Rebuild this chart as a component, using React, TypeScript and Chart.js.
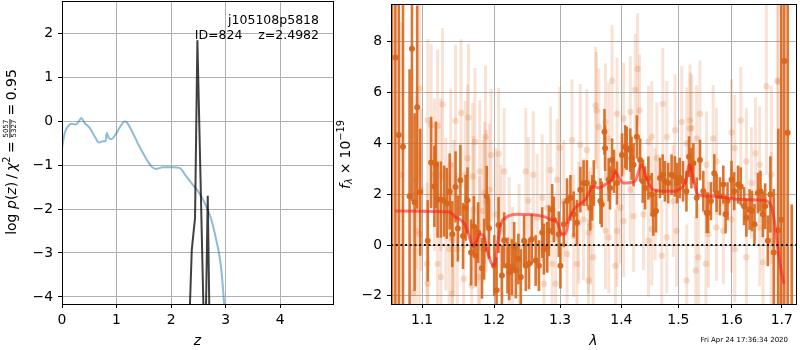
import React, { useEffect, useRef } from 'react';
import { Chart, registerables } from 'chart.js';

Chart.register(...registerables);

const FONT = '"DejaVu Sans", sans-serif';

// ---------------- Left panel data ----------------
const zTicks = [0, 1, 2, 3, 4];
const logpTicks = [-4, -3, -2, -1, 0, 1, 2];
const zRange = [0, 4.97];
const logpRange = [-4.16, 2.73];

const chiZ = [0, 0.05, 0.11, 0.17, 0.25, 0.31, 0.35, 0.42, 0.51, 0.6, 0.68, 0.75, 0.8, 0.82, 0.86, 0.9, 1.0, 1.07, 1.15, 1.2, 1.3, 1.42, 1.55, 1.64, 1.72, 1.85, 2.03, 2.16, 2.28, 2.4, 2.52, 2.65, 2.74, 2.83, 2.9, 2.94, 2.97, 3.0];
const chiLogP = [-0.62, -0.27, -0.12, -0.06, -0.08, -0.01, 0.07, -0.05, -0.16, -0.35, -0.49, -0.46, -0.46, -0.27, -0.39, -0.41, -0.27, -0.12, -0.01, -0.05, -0.27, -0.58, -0.87, -1.03, -1.09, -1.05, -1.05, -1.07, -1.26, -1.45, -1.64, -1.95, -2.25, -2.71, -3.16, -3.62, -4.11, -4.6];

const pzZ = [2.343, 2.38, 2.44, 2.483, 2.595, 2.64, 2.673, 2.702];
const pzLogP = [-4.3, -2.93, -2.2, 1.84, -4.3, -4.3, -1.7, -4.3];

// ---------------- Right panel data ----------------
const lamTicks = [1.1, 1.2, 1.3, 1.4, 1.5, 1.6, 1.7];
const fluxTicks = [-2, 0, 2, 4, 6, 8];
const lamRange = [1.0593, 1.7295];
const fluxRange = [-2.32, 9.49];

const darkLam = [
  1.0607, 1.0649, 1.0693, 1.0748, 1.0834, 1.0865, 1.09, 1.0934, 1.0974, 1.1075, 1.112, 1.1164, 1.1185, 1.1208, 1.1252, 1.1297, 1.1332, 1.1373, 1.1409, 1.1454, 1.1486, 1.1521, 1.1558, 1.1594, 1.1621, 1.1671, 1.1711, 1.1738, 1.1771, 1.1826, 1.1857, 1.1894, 1.1926,
  1.2003, 1.2037, 1.2066, 1.2115, 1.2148, 1.2197, 1.2222, 1.2262, 1.2296, 1.2321, 1.2359, 1.2395, 1.2444, 1.247, 1.2519, 1.256, 1.262, 1.267, 1.272, 1.2747, 1.2798, 1.2824, 1.2875, 1.2901, 1.2979, 1.3004, 1.3057, 1.3109, 1.3163, 1.3214, 1.3267, 1.3322, 1.3374, 1.3427, 1.3482,
  1.3514, 1.354, 1.365, 1.3672, 1.3716, 1.3727, 1.3786, 1.3809, 1.3843, 1.3875, 1.3926, 1.401, 1.4066, 1.409, 1.4151, 1.4173, 1.4208, 1.4265, 1.4321, 1.4367, 1.4407, 1.4465, 1.4524, 1.4552, 1.46, 1.4669, 1.4718, 1.4757, 1.4816, 1.4877, 1.4936, 1.4977, 1.5025, 1.5085, 1.5147, 1.5194, 1.5238,
  1.5275, 1.5336, 1.5397, 1.546, 1.5522, 1.5548, 1.5603, 1.5666, 1.571, 1.5773, 1.5838, 1.5882, 1.592, 1.5996, 1.6048, 1.6125, 1.6175, 1.6241, 1.6286, 1.635, 1.6398, 1.6448, 1.6516, 1.6567, 1.6615, 1.6662, 1.6715, 1.6767, 1.6836, 1.6929, 1.699, 1.7051, 1.7121, 1.7205,
];
const darkFlux = [
  11.0, 7.38, 4.33, 3.87, 1.92, 7.73, 1.69, 5.43, 2.08, 0.17, 3.25, 2.31, 3.16, 1.79, 1.79, 1.73, 1.64, 2.11, 0.43, 2.29, 0.65, 2.55, 0.36, 1.47, 1.76, -0.29, 0.73, -0.42, 0.49, -0.91, -0.16, 1.92, 0.66,
  -0.81, -1.78, 0.79, -1.2, 0.19, -0.81, -1.07, -0.87, -0.09, -1.0, -0.55, -1.26, 0.17, -0.81, -0.74, 0.23, -0.61, -0.81, 0.49, -0.16, -0.09, 0.56, 1.4, 1.01, 0.43, -0.81, 0.82, 1.73, 1.86, 1.21, 0.88, 2.18, 2.44, 2.44, 1.47,
  1.86, 2.44, 1.73, 1.6, 4.46, 3.81, 2.57, 2.25, 3.35, 2.9, 2.44, 3.55, 3.87, 3.81, 3.74, 3.42, 3.16, 4.26, 3.35, 2.51, 2.25, 2.64, 1.99, 1.21, 1.34, 2.64, 2.77, 2.51, 2.44, 2.77, 2.7, 2.44, 2.64, 2.51, 2.12, 3.48, 3.03,
  3.22, 1.86, 3.35, 2.12, 1.27, 1.27, 1.73, 2.83, 2.05, 1.92, 2.38, 1.21, 1.73, 2.57, 2.12, 2.38, 2.31, 1.53, 1.08, 1.4, 1.34, 0.82, 2.05, 2.12, 1.21, 1.53, 0.17, 1.99, -0.29, 0.58, 1.0, 7.25, 4.42, -3.0,
];
const darkErr = [
  14, 10, 9, 7, 5, 6, 3.5, 4, 2.5, 1.6, 1.8, 1.6, 1.7, 1.5, 1.5, 1.4, 1.4, 1.5, 1.3, 1.4, 1.3, 1.4, 1.3, 1.3, 1.3, 1.3, 1.2, 1.2, 1.2, 1.2, 1.2, 1.2, 1.2,
  1.2, 1.3, 1.1, 1.2, 1.1, 1.1, 1.1, 1.1, 1.0, 1.1, 1.0, 1.1, 1.0, 1.0, 1.0, 1.0, 1.0, 1.0, 1.0, 1.0, 1.0, 1.0, 1.0, 0.9, 0.9, 0.9, 0.9, 0.9, 0.9, 0.9, 0.9, 0.9, 0.9, 0.9, 0.9,
  0.9, 0.9, 0.9, 0.9, 0.9, 0.9, 0.85, 0.85, 0.85, 0.85, 0.85, 0.85, 0.85, 0.85, 0.85, 0.85, 0.85, 0.85, 0.85, 0.85, 0.85, 0.85, 0.85, 0.85, 0.85, 0.8, 0.8, 0.8, 0.8, 0.8, 0.8, 0.8, 0.8, 0.8, 0.8, 0.8, 0.8,
  0.8, 0.8, 0.8, 0.8, 0.8, 0.8, 0.75, 0.75, 0.75, 0.75, 0.75, 0.75, 0.75, 0.75, 0.75, 0.75, 0.75, 0.75, 0.75, 0.8, 0.8, 0.8, 0.8, 0.8, 0.9, 0.9, 1.0, 1.5, 2.5, 4, 10, 12, 12, 4.6,
];

const lightLam = [
  1.0726, 1.0878, 1.0921, 1.0921, 1.0966, 1.0966, 1.0987, 1.1066, 1.1075, 1.1075, 1.112, 1.1164, 1.1208, 1.1208, 1.1252, 1.1252, 1.1275, 1.132, 1.1365, 1.1387, 1.1409, 1.1409, 1.1432, 1.1454, 1.1477, 1.153, 1.1567, 1.1589, 1.1621, 1.1635, 1.168, 1.1694, 1.1703, 1.1726, 1.1771, 1.1794, 1.1794, 1.184, 1.1863, 1.1877, 1.1886,
  1.1932, 1.1957, 1.2029, 1.2066, 1.2101, 1.2148, 1.2222, 1.2271, 1.237, 1.247, 1.2509, 1.2584, 1.2644, 1.272, 1.2747, 1.2798, 1.2849, 1.2875, 1.2927, 1.2953, 1.2994, 1.3057, 1.3109, 1.3188, 1.3214, 1.3267, 1.3294, 1.332, 1.3373, 1.3427, 1.3454, 1.3454,
  1.3487, 1.353, 1.3568, 1.3585, 1.3623, 1.3733, 1.3733, 1.3787, 1.3787, 1.3843, 1.3899, 1.3927, 1.3927, 1.3982, 1.4039, 1.4039, 1.4152, 1.4152, 1.4208, 1.4237, 1.4277, 1.4311, 1.438, 1.4467, 1.4467, 1.4525, 1.4525, 1.4584, 1.4614, 1.4701, 1.472, 1.4791, 1.4791, 1.4909, 1.494, 1.4969, 1.5061, 1.5152, 1.5152, 1.5213, 1.5213,
  1.5245, 1.5318, 1.5336, 1.5367, 1.5396, 1.5508, 1.5521, 1.5557, 1.5645, 1.5708, 1.5708, 1.5837, 1.5996, 1.5996, 1.606, 1.606, 1.6177, 1.6287, 1.6287, 1.6386, 1.6466, 1.6551, 1.6551, 1.6619, 1.6685, 1.6786, 1.6786, 1.6908, 1.6934,
];
const lightFlux = [
  2.77, -1.89, 2.57, 0.56, 6.17, 0.43, 2.18, -0.74, 4.91, -1.52, 4.72, 2.77, 4.69, -0.74, 2.77, -1.26, 5.54, 1.21, -0.16, 3.16, 0.23, -1.91, 1.14, 4.89, -0.16, 5.2, -1.33, 2.77, 3.42, 5.02, -1.59, 2.7, 1.4, 4.07, -1.26, 2.9, -0.09, 1.34, 2.05, 4.26, 1.73,
  2.18, 3.55, 1.21, 3.59, 0.56, 2.9, 0.17, -1.0, -0.09, 2.9, 1.75, 2.77, 1.08, 1.86, -1.52, 1.47, 2.96, -0.74, -1.52, 2.57, 3.83, 1.73, -0.35, 4.13, 0.36, -0.74, 0.88, 3.94, 1.01, 3.74, -1.39, 0.49,
  0.75, -0.48, 5.5, 5.3, 4.65, 4.85, 0.56, 4.2, 0.3, 6.47, -0.81, 5.17, 0.56, 1.47, 4.98, 0.95, 5.24, 2.18, 1.14, 6.12, 6.93, 5.3, 1.21, 4.07, 0.17, 4.26, 0.62, 1.6, 3.42, -0.42, 5.56, 4.26, 0.3, 1.73, 4.52, 0.56, 4.85, 4.0, -1.39, 4.91, 4.59,
  4.61, -1.0, 4.2, -0.48, 5.17, -0.74, 3.16, 0.43, 4.2, 3.29, 0.69, 0.56, 4.43, 1.01, 3.81, -0.16, 4.91, 3.29, -0.48, 2.44, 3.61, 3.16, 0.69, -0.68, 6.25, 2.77, 0.17, 6.47, 6.43,
];
const lightErr = [
  6, 4, 3.5, 3.5, 3.5, 3.5, 3.2, 3.2, 3.2, 3.2, 3.2, 3.0, 3.0, 3.0, 3.0, 3.0, 3.0, 3.0, 3.0, 3.0, 3.0, 3.0, 3.0, 3.0, 3.0, 2.9, 2.9, 2.9, 2.9, 2.9, 2.9, 2.9, 2.9, 2.9, 2.8, 2.8, 2.8, 2.8, 2.8, 2.8, 2.8,
  2.6, 2.6, 2.6, 2.6, 2.6, 2.5, 2.5, 2.5, 2.5, 2.5, 2.5, 2.5, 2.5, 2.5, 2.5, 2.5, 2.5, 2.5, 2.5, 2.4, 2.4, 2.4, 2.4, 2.4, 2.4, 2.4, 2.4, 2.4, 2.4, 2.4, 2.4, 2.4,
  2.3, 2.3, 2.3, 2.3, 2.3, 2.3, 2.3, 2.2, 2.2, 2.2, 2.2, 2.2, 2.2, 2.2, 2.2, 2.2, 2.2, 2.2, 2.2, 2.2, 2.2, 2.2, 2.2, 2.2, 2.2, 2.2, 2.2, 2.2, 2.2, 2.2, 2.2, 2.2, 2.2, 2.2, 2.2, 2.2, 2.2, 2.2, 2.2, 2.2, 2.2,
  2.1, 2.1, 2.1, 2.1, 2.1, 2.1, 2.1, 2.1, 2.1, 2.1, 2.1, 2.1, 2.1, 2.1, 2.1, 2.1, 2.1, 2.1, 2.1, 2.2, 2.2, 2.3, 2.3, 2.4, 3.5, 3.5, 3.5, 9, 9,
];

const modelLam = [1.0645, 1.1365, 1.1454, 1.1567, 1.1635, 1.17, 1.174, 1.18, 1.185, 1.19, 1.196, 1.2003, 1.2052, 1.2101, 1.2174, 1.2344, 1.272, 1.2849, 1.2953, 1.3031, 1.3084, 1.3147, 1.3242, 1.3402, 1.3535, 1.3618, 1.3728, 1.3837, 1.3904, 1.3961, 1.4034, 1.4231, 1.4345, 1.4431, 1.4547, 1.4753, 1.4934, 1.5053, 1.5126, 1.5206, 1.5267, 1.5359, 1.5605, 1.6241, 1.6636, 1.6769, 1.6838, 1.6908, 1.6975, 1.7044];
const modelFlux = [1.34, 1.3, 1.1, 0.88, 0.43, -0.05, 0.1, 0.43, 0.36, -0.2, -0.7, -0.81, 0.04, 0.82, 1.08, 1.21, 1.14, 1.01, 0.88, 0.43, 0.45, 1.08, 1.47, 1.79, 2.31, 2.25, 2.38, 2.57, 2.87, 2.64, 2.44, 2.51, 3.16, 2.64, 2.18, 2.12, 2.12, 2.25, 2.44, 3.16, 2.64, 1.99, 1.92, 1.79, 1.76, 1.6, 1.08, 0.04, -0.87, -1.52];

const zeroLam = [1.0593, 1.7295];
const zeroFlux = [0, 0];

// ---------------- helpers ----------------
const fmtSigned = (v: number) => (v < 0 ? '\u2212' + Math.abs(v) : String(v));
const pts = (xs: number[], ys: number[]) => xs.map((x, i) => ({ x, y: ys[i] }));

const errorBarPlugin = {
  id: 'errbars',
  beforeDatasetDraw(chart: any, args: any) {
    const ds = chart.data.datasets[args.index];
    if (!ds.errs) return;
    const { ctx, chartArea: a } = chart;
    const xs = chart.scales.x;
    const ys = chart.scales.y;
    ctx.save();
    ctx.beginPath();
    ctx.rect(a.left, a.top, a.right - a.left, a.bottom - a.top);
    ctx.clip();
    ctx.strokeStyle = ds.errColor;
    ctx.lineWidth = ds.errWidth;
    ds.data.forEach((p: any, i: number) => {
      const px = xs.getPixelForValue(p.x);
      ctx.beginPath();
      ctx.moveTo(px, ys.getPixelForValue(p.y - ds.errs[i]));
      ctx.lineTo(px, ys.getPixelForValue(p.y + ds.errs[i]));
      ctx.stroke();
    });
    ctx.restore();
  },
};

function scaleCfg(type: string, range: number[], ticks: number[], fmt: (v: number) => string, horizontal: boolean, size: number) {
  return {
    type,
    min: range[0],
    max: range[1],
    bounds: 'data',
    afterBuildTicks: (s: any) => {
      s.ticks = ticks.map((v) => ({ value: v }));
    },
    afterFit: (s: any) => {
      if (horizontal) s.height = size;
      else s.width = size;
      s.paddingTop = 0;
      s.paddingBottom = 0;
      s.paddingLeft = 0;
      s.paddingRight = 0;
    },
    grid: { color: '#b0b0b0', lineWidth: 1, tickColor: '#000', tickLength: 4, tickWidth: 1 },
    border: { display: false },
    ticks: {
      color: '#000',
      font: { family: FONT, size: 13.9 },
      padding: horizontal ? 4 : 5,
      autoSkip: false,
      maxRotation: 0,
      minRotation: 0,
      callback: (v: any) => fmt(Number(v)),
    },
  };
}

type Piece = { t?: string; font?: string; dy?: number; gap?: number; frac?: [string, string] };

function drawRotatedMath(ctx: CanvasRenderingContext2D, pieces: Piece[], cx: number, cy: number) {
  const widths = pieces.map((p) => {
    if (p.gap) return p.gap;
    ctx.font = p.font as string;
    if (p.frac) return Math.max(ctx.measureText(p.frac[0]).width, ctx.measureText(p.frac[1]).width) + 2;
    return ctx.measureText(p.t as string).width;
  });
  const total = widths.reduce((a, b) => a + b, 0);
  ctx.save();
  ctx.translate(cx, cy);
  ctx.rotate(-Math.PI / 2);
  ctx.fillStyle = '#000';
  ctx.textBaseline = 'alphabetic';
  let x = -total / 2;
  pieces.forEach((p, i) => {
    if (p.frac) {
      ctx.font = p.font as string;
      ctx.textAlign = 'center';
      const mid = x + widths[i] / 2;
      ctx.fillText(p.frac[0], mid, -7.2);
      ctx.fillText(p.frac[1], mid, 0.5);
      ctx.fillRect(x + 0.5, -6, widths[i] - 1, 0.9);
      ctx.textAlign = 'left';
    } else if (!p.gap) {
      ctx.font = p.font as string;
      ctx.textAlign = 'left';
      ctx.fillText(p.t as string, x, p.dy || 0);
    }
    x += widths[i];
  });
  ctx.restore();
}

function drawFrame(chart: any) {
  const { ctx, chartArea: a } = chart;
  ctx.save();
  ctx.strokeStyle = '#000';
  ctx.lineWidth = 1;
  ctx.strokeRect(a.left + 0.5, a.top + 0.5, a.right - a.left, a.bottom - a.top);
  ctx.restore();
}

const R = `14px ${FONT}`;
const I = `italic 14px ${FONT}`;
const S = `9.8px ${FONT}`;

const leftDeco = {
  id: 'leftDeco',
  afterDraw(chart: any) {
    drawFrame(chart);
    const { ctx, chartArea: a } = chart;
    ctx.save();
    ctx.fillStyle = '#000';
    ctx.font = `12.5px ${FONT}`;
    ctx.textAlign = 'right';
    ctx.textBaseline = 'alphabetic';
    ctx.fillText('j105108p5818', 319, 24);
    ctx.fillText('ID=824    z=2.4982', 319, 38.5);
    ctx.font = I;
    ctx.textAlign = 'center';
    ctx.fillText('z', (a.left + a.right) / 2, 345);
    ctx.restore();
    drawRotatedMath(
      ctx,
      [
        { t: 'log', font: R },
        { gap: 4.5 },
        { t: 'p', font: I },
        { t: '(', font: R },
        { t: 'z', font: I },
        { t: ')', font: R },
        { gap: 3 },
        { t: '/', font: R },
        { gap: 3 },
        { t: '\u03c7', font: I },
        { t: '2', font: S, dy: -6 },
        { gap: 3.5 },
        { t: '=', font: R },
        { gap: 3 },
        { frac: ['5057', '5327'], font: `7px ${FONT}` },
        { gap: 3 },
        { t: '=', font: R },
        { gap: 3.5 },
        { t: '0.95', font: R },
      ],
      15.5,
      152
    );
  },
};

const rightDeco = {
  id: 'rightDeco',
  afterDraw(chart: any) {
    drawFrame(chart);
    const { ctx, chartArea: a } = chart;
    ctx.save();
    ctx.fillStyle = '#000';
    ctx.font = I;
    ctx.textAlign = 'center';
    ctx.textBaseline = 'alphabetic';
    ctx.fillText('\u03bb', (a.left + a.right) / 2, 345);
    ctx.font = `7px ${FONT}`;
    ctx.textAlign = 'right';
    ctx.fillText('Fri Apr 24 17:36:34 2020', 453, 341.5);
    ctx.restore();
    drawRotatedMath(
      ctx,
      [
        { t: 'f', font: I },
        { t: '\u03bb', font: `italic 9.8px ${FONT}`, dy: 2.5 },
        { gap: 4 },
        { t: '\u00d7', font: R },
        { gap: 4 },
        { t: '10', font: R },
        { t: '\u221219', font: S, dy: -6 },
      ],
      14.5,
      154.5
    );
  },
};

const ORANGE = '216,102,27';

export default function App() {
  const leftRef = useRef<HTMLCanvasElement>(null);
  const rightRef = useRef<HTMLCanvasElement>(null);

  useEffect(() => {
    const left = new Chart(leftRef.current as HTMLCanvasElement, {
      type: 'line',
      data: {
        datasets: [
          {
            label: 'p(z)',
            data: pts(pzZ, pzLogP),
            borderColor: 'rgba(0,0,0,0.75)',
            borderWidth: 2,
            pointRadius: 0,
            tension: 0,
            order: 1,
          },
          {
            label: 'chi2',
            data: pts(chiZ, chiLogP),
            borderColor: 'rgba(31,119,180,0.5)',
            borderWidth: 2,
            pointRadius: 0,
            cubicInterpolationMode: 'monotone',
            order: 2,
          },
        ],
      } as any,
      options: {
        responsive: false,
        animation: false,
        devicePixelRatio: 1,
        layout: { padding: { left: 0, right: 3, top: 1, bottom: 0 } },
        plugins: { legend: { display: false }, tooltip: { enabled: false } },
        scales: {
          x: scaleCfg('linear', zRange, zTicks, (v) => String(v), true, 46),
          y: scaleCfg('linear', logpRange, logpTicks, fmtSigned, false, 62),
        } as any,
      },
      plugins: [leftDeco],
    });

    const right = new Chart(rightRef.current as HTMLCanvasElement, {
      type: 'scatter',
      data: {
        datasets: [
          {
            label: 'zero',
            type: 'line',
            data: pts(zeroLam, zeroFlux),
            borderColor: '#111',
            borderWidth: 2,
            borderDash: [2, 2.7],
            pointRadius: 0,
            order: 1,
          },
          {
            label: 'model',
            type: 'line',
            data: pts(modelLam, modelFlux),
            borderColor: 'rgba(255,30,30,0.6)',
            borderWidth: 3,
            pointRadius: 0,
            cubicInterpolationMode: 'monotone',
            order: 2,
          },
          {
            label: 'dark',
            data: pts(darkLam, darkFlux),
            errs: darkErr,
            errColor: `rgba(${ORANGE},0.9)`,
            errWidth: 2.6,
            pointRadius: 3,
            pointBorderWidth: 0,
            pointBackgroundColor: `rgba(${ORANGE},0.95)`,
            order: 3,
          },
          {
            label: 'light',
            data: pts(lightLam, lightFlux),
            errs: lightErr,
            errColor: `rgba(${ORANGE},0.18)`,
            errWidth: 3,
            pointRadius: 3.2,
            pointBorderWidth: 0,
            pointBackgroundColor: `rgba(${ORANGE},0.2)`,
            order: 4,
          },
        ],
      } as any,
      options: {
        responsive: false,
        animation: false,
        devicePixelRatio: 1,
        layout: { padding: { left: 0, right: 1, top: 1, bottom: 0 } },
        plugins: { legend: { display: false }, tooltip: { enabled: false } },
        scales: {
          x: scaleCfg('logarithmic', lamRange, lamTicks, (v) => v.toFixed(1), true, 46),
          y: scaleCfg('linear', fluxRange, fluxTicks, fmtSigned, false, 56),
        } as any,
      },
      plugins: [errorBarPlugin, rightDeco],
    });

    return () => {
      left.destroy();
      right.destroy();
    };
  }, []);

  return (
    <div style={{ position: 'absolute', left: 0, top: 0, width: 800, height: 350, background: '#fff' }}>
      <canvas ref={leftRef} width={336} height={350} style={{ position: 'absolute', left: 0, top: 0, width: 336, height: 350 }} />
      <canvas ref={rightRef} width={465} height={350} style={{ position: 'absolute', left: 335, top: 0, width: 465, height: 350 }} />
    </div>
  );
}
